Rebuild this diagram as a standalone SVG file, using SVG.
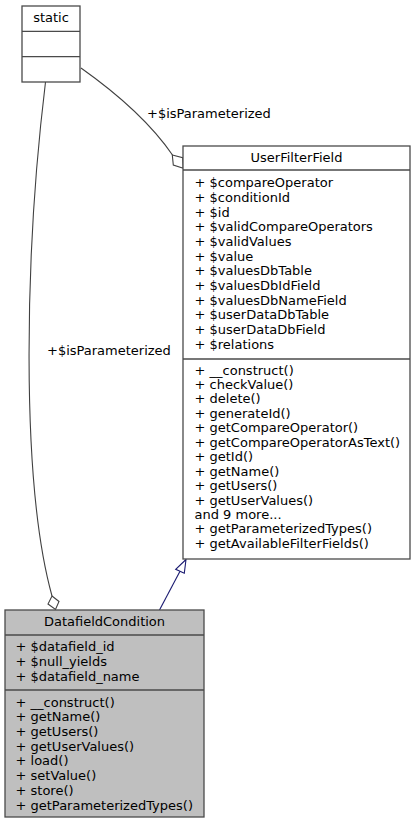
<svg xmlns="http://www.w3.org/2000/svg" width="415" height="824" viewBox="0 0 415 824">
<style>
text{font-family:"DejaVu Sans","Liberation Sans",sans-serif;font-size:13px;fill:#000}
.box{fill:#fff;stroke:#4a4a4a;stroke-width:1.3}
.sel{fill:#bfbfbf;stroke:#4a4a4a;stroke-width:1.3}
.ln{stroke:#4a4a4a;stroke-width:1.3}
.c{text-anchor:middle}
.edge{fill:none;stroke:#404040;stroke-width:1.1}
.inh{fill:none;stroke:#191970;stroke-width:1.1}
</style>
<rect width="415" height="824" fill="#fff"/>
<g id="connectors">
<path class="edge" d="M81,68 C105,85 145,115 172.5,155"/>
<polygon points="172.3,155 182.7,157.7 183.3,168.3 173.3,165" fill="#fff" stroke="#404040" stroke-width="1.1"/>
<text x="147" y="117.5">+$isParameterized</text>
<path class="edge" d="M45.5,82 C25,250 20,480 52,596"/>
<polygon points="52,596 59,601.5 55.5,609.5 48,604" fill="#fff" stroke="#404040" stroke-width="1.1"/>
<text x="47" y="355">+$isParameterized</text>
<path class="inh" d="M159.5,610 L180,571.3"/>
<polygon points="186,559.5 175.7,569.3 184.3,573.3" fill="#fff" stroke="#191970" stroke-width="1.1"/>
</g>
<g id="static">
<rect class="box" x="22" y="6" width="58" height="76"/>
<line class="ln" x1="22" y1="31.3" x2="80" y2="31.3"/>
<line class="ln" x1="22" y1="56.7" x2="80" y2="56.7"/>
<text class="c" x="51" y="22">static</text>
</g>
<g id="UserFilterField">
<rect class="box" x="183" y="146" width="227" height="413"/>
<line class="ln" x1="183" y1="170" x2="410" y2="170"/>
<line class="ln" x1="183" y1="359" x2="410" y2="359"/>
<text class="c" x="296.5" y="162">UserFilterField</text>
<text x="194.5" y="187.2">+ $compareOperator</text>
<text x="194.5" y="201.8">+ $conditionId</text>
<text x="194.5" y="216.5">+ $id</text>
<text x="194.5" y="231.2">+ $validCompareOperators</text>
<text x="194.5" y="245.8">+ $validValues</text>
<text x="194.5" y="260.5">+ $value</text>
<text x="194.5" y="275.2">+ $valuesDbTable</text>
<text x="194.5" y="289.8">+ $valuesDbIdField</text>
<text x="194.5" y="304.5">+ $valuesDbNameField</text>
<text x="194.5" y="319.2">+ $userDataDbTable</text>
<text x="194.5" y="333.8">+ $userDataDbField</text>
<text x="194.5" y="348.5">+ $relations</text>
<text x="194.5" y="374.5">+ __construct()</text>
<text x="194.5" y="388.9">+ checkValue()</text>
<text x="194.5" y="403.4">+ delete()</text>
<text x="194.5" y="417.8">+ generateId()</text>
<text x="194.5" y="432.3">+ getCompareOperator()</text>
<text x="194.5" y="446.7">+ getCompareOperatorAsText()</text>
<text x="194.5" y="461.1">+ getId()</text>
<text x="194.5" y="475.6">+ getName()</text>
<text x="194.5" y="490">+ getUsers()</text>
<text x="194.5" y="504.5">+ getUserValues()</text>
<text x="194.5" y="518.9">and 9 more...</text>
<text x="194.5" y="533.4">+ getParameterizedTypes()</text>
<text x="194.5" y="547.8">+ getAvailableFilterFields()</text>
</g>
<g id="DatafieldCondition">
<rect class="sel" x="5" y="610" width="199" height="207"/>
<line class="ln" x1="5" y1="635" x2="204" y2="635"/>
<line class="ln" x1="5" y1="690" x2="204" y2="690"/>
<text class="c" x="104.5" y="625.5">DatafieldCondition</text>
<text x="15.5" y="651.2">+ $datafield_id</text>
<text x="15.5" y="665.8">+ $null_yields</text>
<text x="15.5" y="680.5">+ $datafield_name</text>
<text x="15.5" y="706.5">+ __construct()</text>
<text x="15.5" y="721.2">+ getName()</text>
<text x="15.5" y="735.9">+ getUsers()</text>
<text x="15.5" y="750.6">+ getUserValues()</text>
<text x="15.5" y="765.4">+ load()</text>
<text x="15.5" y="780.1">+ setValue()</text>
<text x="15.5" y="794.8">+ store()</text>
<text x="15.5" y="809.5">+ getParameterizedTypes()</text>
</g>
</svg>
